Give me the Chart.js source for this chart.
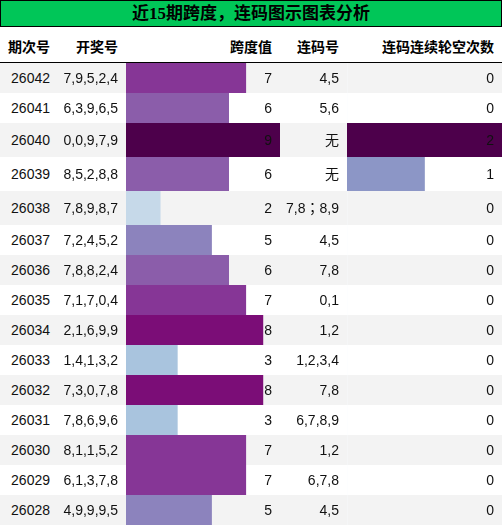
<!DOCTYPE html>
<html>
<head>
<meta charset="utf-8">
<script src="https://cdn.jsdelivr.net/npm/chart.js@4.4.1/dist/chart.umd.min.js"></script>
<style>
  html, body { margin: 0; padding: 0; background: #fff; }
  body { width: 502px; height: 526px; overflow: hidden; position: relative; }
  #title {
    position: absolute; left: 0; top: 0; width: 502px; height: 27px; box-sizing: border-box;
    border: 1px solid #000; background: rgb(0, 198, 88);
    font-family: "Liberation Serif", "Noto Sans CJK SC", serif; font-weight: bold; font-size: 17px;
    color: #000; text-align: center; line-height: 25px;
  }
  .hdr {
    position: absolute; top: 27px; height: 35px; box-sizing: border-box; padding-right: 8px; padding-top: 3px;
    text-align: right; line-height: 32px; white-space: nowrap;
    font-family: "Noto Sans CJK SC", sans-serif; font-weight: bold; font-size: 14px; color: #000;
  }
  #hline { position: absolute; left: 0; top: 62px; width: 502px; height: 1px; background: #000; }
  .rowbg { position: absolute; left: 0; width: 502px; }
  .cell {
    position: absolute; box-sizing: border-box; padding-right: 8px; text-align: right; white-space: nowrap;
    font-family: "Liberation Sans", Arial, "Noto Sans CJK TC", sans-serif; font-size: 14px; color: #111;
    z-index: 2;
  }
  .barwrap { position: absolute; z-index: 1; }
</style>
</head>
<body>
<div id="title">近15期跨度，连码图示图表分析</div>
<div id="hline"></div>
<script>
// ---- data ----
const periods = ['26042','26041','26040','26039','26038','26037','26036','26035','26034','26033','26032','26031','26030','26029','26028'];
const draws = ['7,9,5,2,4','6,3,9,6,5','0,0,9,7,9','8,5,2,8,8','7,8,9,8,7','7,2,4,5,2','7,8,8,2,4','7,1,7,0,4','2,1,6,9,9','1,4,1,3,2','7,3,0,7,8','7,8,6,9,6','8,1,1,5,2','6,1,3,7,8','4,9,9,9,5'];
const spans = [7,6,9,6,2,5,6,7,8,3,8,3,7,7,5];
const consec = ['4,5','5,6','无','无','7,8；8,9','4,5','7,8','0,1','1,2','1,2,3,4','7,8','6,7,8,9','1,2','6,7,8','4,5'];
const gaps = [0,0,2,1,0,0,0,0,0,0,0,0,0,0,0];
const headers = ['期次号','开奖号','跨度值','连码号','连码连续轮空次数'];
const spanMax = 9;
const gapMax = 2;

// ---- layout / style ----
const colLeft = [0, 58, 126, 280, 347];
const colWidth = [58, 68, 154, 67, 155];
const rowHeights = [30,30,34,34,34,30,30,30,30,30,30,30,30,30,30];
const bodyTop = 63;
const stripe = ['#f3f3f3', '#ffffff'];
const BuPu = [[247,252,253],[224,236,244],[191,211,230],[158,188,218],[140,150,198],[140,107,177],[136,65,157],[129,15,124],[77,0,75]];
function cmap(t) {
  t = Math.max(0, Math.min(1, t));
  const p = t * (BuPu.length - 1);
  const i = Math.min(Math.floor(p), BuPu.length - 2);
  const f = p - i;
  const a = BuPu[i], b = BuPu[i + 1];
  const c = a.map((v, k) => Math.round(v + (b[k] - v) * f));
  return `rgb(${c[0]},${c[1]},${c[2]})`;
}

// header
headers.forEach((h, c) => {
  const d = document.createElement('div');
  d.className = 'hdr';
  d.style.left = colLeft[c] + 'px';
  d.style.width = colWidth[c] + 'px';
  d.textContent = h;
  document.body.appendChild(d);
});

function addCell(text, c, y, h) {
  const d = document.createElement('div');
  d.className = 'cell';
  d.style.left = colLeft[c] + 'px';
  d.style.width = colWidth[c] + 'px';
  d.style.top = y + 'px';
  d.style.height = h + 'px';
  d.style.lineHeight = h + 'px';
  d.textContent = text;
  document.body.appendChild(d);
}

function addBar(value, max, c, y, h, label) {
  const w = document.createElement('div');
  w.className = 'barwrap';
  w.style.left = colLeft[c] + 'px';
  w.style.top = y + 'px';
  w.style.width = colWidth[c] + 'px';
  w.style.height = h + 'px';
  const cv = document.createElement('canvas');
  w.appendChild(cv);
  document.body.appendChild(w);
  new Chart(cv, {
    type: 'bar',
    data: {
      labels: [label],
      datasets: [{
        data: [value],
        backgroundColor: cmap(value / max),
        borderWidth: 0,
        barPercentage: 1,
        categoryPercentage: 1
      }]
    },
    options: {
      indexAxis: 'y',
      responsive: true,
      maintainAspectRatio: false,
      animation: false,
      events: [],
      layout: { padding: 0 },
      plugins: { legend: { display: false }, tooltip: { enabled: false } },
      scales: {
        x: { display: false, min: 0, max: max },
        y: { display: false }
      }
    }
  });
}

let rowTop = bodyTop;
periods.forEach((p, i) => {
  const h = rowHeights[i];
  const bg = document.createElement('div');
  bg.className = 'rowbg';
  bg.style.top = rowTop + 'px';
  bg.style.height = h + 'px';
  bg.style.background = stripe[i % 2];
  document.body.appendChild(bg);

  addCell(p, 0, rowTop, h);
  addCell(draws[i], 1, rowTop, h);
  addBar(spans[i], spanMax, 2, rowTop, h, p);
  addCell(String(spans[i]), 2, rowTop, h);
  addCell(consec[i], 3, rowTop, h);
  addBar(gaps[i], gapMax, 4, rowTop, h, p);
  addCell(String(gaps[i]), 4, rowTop, h);
  rowTop += h;
});
</script>
</body>
</html>
